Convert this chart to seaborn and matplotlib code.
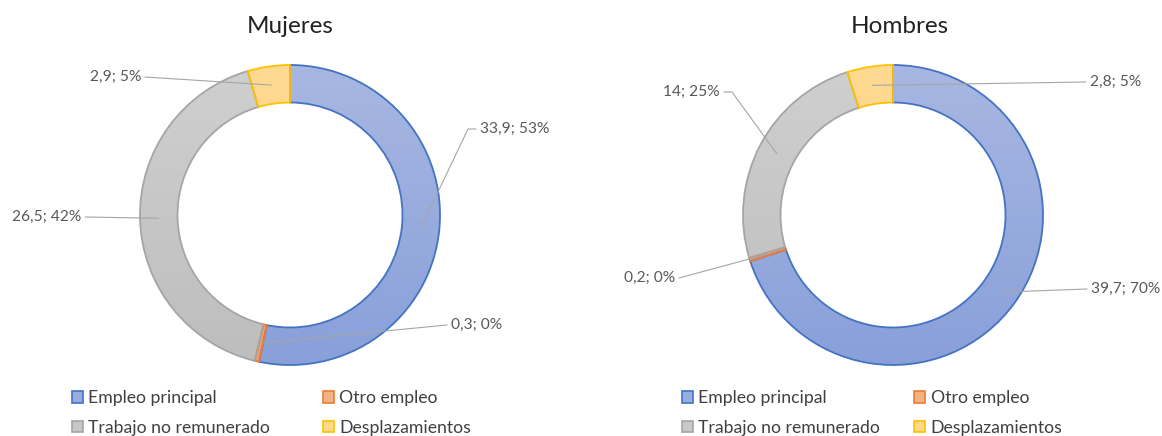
import numpy as np
import matplotlib
matplotlib.use("Agg")
import matplotlib.pyplot as plt
import seaborn as sns
from matplotlib.patches import Patch

sns.set_theme(style="white")
plt.rcParams['font.family'] = ['Lato', 'DejaVu Sans']

categories = ["Empleo principal", "Otro empleo", "Trabajo no remunerado", "Desplazamientos"]
mujeres = [33.9, 0.3, 26.5, 2.9]
hombres = [39.7, 0.2, 14.0, 2.8]
mujeres_labels = ["33,9; 53%", "0,3; 0%", "26,5; 42%", "2,9; 5%"]
hombres_labels = ["39,7; 70%", "0,2; 0%", "14; 25%", "2,8; 5%"]
titles = ["Mujeres", "Hombres"]

edge_colors = ["#4472C4", "#ED7D31", "#A5A5A5", "#FFC000"]
face_top = ["#A9B8E2", "#F4B183", "#D0D0D0", "#FFDA93"]
face_bot = ["#889FD9", "#F0A070", "#BDBDBD", "#FFD27A"]
legend_faces = ["#98ACDD", "#F4B183", "#C8C8C8", "#FFD98A"]

W, H = 1162, 436
fig = plt.figure(figsize=(W / 100, H / 100), dpi=100)

R = 150.0  # pixels per data unit

# (x, y, ha, elbow_px)
panels = [
    dict(vals=mujeres, labels=mujeres_labels, title=titles[0], box=(0, 581), center=(290, 215),
         texts=[(480, 129, 'left', 8), (451, 325, 'left', 0), (81, 217, 'right', 0),
                (141, 77, 'right', 0)],
         title_x=290, leg_x=72, colsp=3.0),
    dict(vals=hombres, labels=hombres_labels, title=titles[1], box=(581, 1162), center=(893, 215),
         texts=[(1091, 289, 'left', 0), (675, 278, 'right', 0), (720, 92, 'right', 8),
                (1090, 82, 'left', 0)],
         title_x=900, leg_x=682, colsp=1.95),
]

for p in panels:
    x0, x1 = p['box']
    cx, cy = p['center']
    ax = fig.add_axes([x0 / W, 0, (x1 - x0) / W, 1])
    wedges, _ = ax.pie(p['vals'], startangle=90, counterclock=False, radius=1,
                       wedgeprops=dict(width=0.25, linewidth=1.3))
    ax.set_aspect('auto')
    ax.set_axis_off()
    for i, w in enumerate(wedges):
        w.set_edgecolor(edge_colors[i])
        w.set_facecolor('none')
        w.set_zorder(3)
        c1 = np.array(matplotlib.colors.to_rgb(face_top[i]))
        c2 = np.array(matplotlib.colors.to_rgb(face_bot[i]))
        t = np.linspace(0, 1, 200)[:, None]
        grad = (c1[None, :] * (1 - t) + c2[None, :] * t)[:, None, :]
        grad = np.repeat(grad, 2, axis=1)
        im = ax.imshow(grad, extent=[-1.05, 1.05, -1.05, 1.05], origin='upper',
                       aspect='auto', zorder=2, interpolation='bilinear')
        im.set_clip_path(w)
    ax.set_xlim((x0 - cx) / R, (x1 - cx) / R)
    ax.set_ylim((cy - H) / R, cy / R)

    for i, w in enumerate(wedges):
        ang = np.deg2rad((w.theta1 + w.theta2) / 2)
        ax_pt = (0.875 * np.cos(ang), 0.875 * np.sin(ang))
        tx, ty, ha, elbow = p['texts'][i]
        dx, dy = (tx - cx) / R, (cy - ty) / R
        sgn = -1 if ha == 'left' else 1
        lx = dx + sgn * 4 / R
        ex = lx + sgn * elbow / R
        ax.plot([lx, ex, ax_pt[0]], [dy, dy, ax_pt[1]], color='#A6A6A6', lw=0.8, zorder=4)
        ax.text(dx, dy, p['labels'][i], ha=ha, va='center', fontsize=11.2,
                color='#595959', zorder=5)

    ax.text((p['title_x'] - cx) / R, (cy - 27) / R, p['title'], ha='center', va='center',
            fontsize=17.5, color='#222222')

    order = [0, 2, 1, 3]  # row-major layout like the reference
    handles = [Patch(facecolor=legend_faces[i], edgecolor=edge_colors[i], linewidth=1.2)
               for i in order]
    leg = ax.legend(handles, [categories[i] for i in order], ncol=2, loc='upper left',
                    bbox_to_anchor=((p['leg_x'] - x0) / (x1 - x0), 1 - 390 / H),
                    frameon=False, fontsize=12.7, handlelength=0.62, handleheight=0.62,
                    handletextpad=0.3, labelspacing=0.78, columnspacing=p['colsp'],
                    borderaxespad=0, borderpad=0)
    for txt in leg.get_texts():
        txt.set_color('#404040')

fig.savefig("out.png", dpi=100)
